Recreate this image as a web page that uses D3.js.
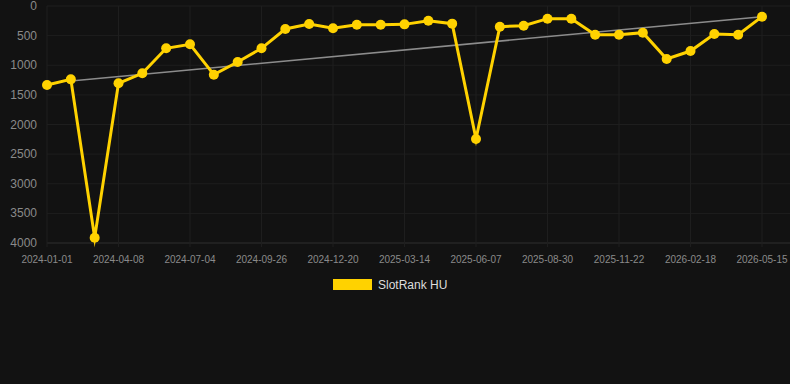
<!DOCTYPE html>
<html><head><meta charset="utf-8">
<script src="https://cdn.jsdelivr.net/npm/d3@7/dist/d3.min.js"></script>
<style>html,body{margin:0;padding:0;background:#121212;}svg{display:block;font-family:Arial,"Liberation Sans",sans-serif;}</style>
</head><body><svg id="c" width="790" height="384"></svg>
<script>
const dates = ["2024-01-01","2024-02-03","2024-03-06","2024-04-08","2024-05-07","2024-06-05","2024-07-04","2024-08-01","2024-08-29","2024-09-26","2024-10-24","2024-11-22","2024-12-20","2025-01-17","2025-02-14","2025-03-14","2025-04-11","2025-05-10","2025-06-07","2025-07-05","2025-08-02","2025-08-30","2025-09-27","2025-10-25","2025-11-22","2025-12-21","2026-01-19","2026-02-18","2026-03-18","2026-04-16","2026-05-15"];
const rank = [1333,1238,3910,1305,1136,714,647,1159,945,714,388,304,377,315,315,310,248,298,2245,349,332,214,214,484,484,450,895,760,473,484,180];
const yTicks = [0,500,1000,1500,2000,2500,3000,3500,4000];
const xTickLabels = ["2024-01-01","2024-04-08","2024-07-04","2024-09-26","2024-12-20","2025-03-14","2025-06-07","2025-08-30","2025-11-22","2026-02-18","2026-05-15"];
const trendIdx = [1,30];
const trendVals = [1266,180];
const seriesName = "SlotRank HU";

const svg = d3.select("#c");
const L=47,R=762,T=6,B=243;
const x = d3.scalePoint().domain(dates).range([L,R]);
const y = d3.scaleLinear().domain([0,4000]).range([T,B]);

const g = svg.append("g");
// horizontal grid
g.selectAll(".hg").data(yTicks).enter().append("line")
 .attr("x1",L).attr("x2",790).attr("y1",d=>y(d)).attr("y2",d=>y(d))
 .attr("stroke",d=>d===4000?"#2e2e2e":"#1e1e1e").attr("stroke-width",1);
// vertical grid
g.selectAll(".vg").data(xTickLabels).enter().append("line")
 .attr("x1",d=>x(d)).attr("x2",d=>x(d)).attr("y1",T).attr("y2",B+4)
 .attr("stroke","#1e1e1e").attr("stroke-width",1);
// y labels
g.selectAll(".yl").data(yTicks).enter().append("text")
 .attr("x",37).attr("y",d=>y(d)+4).attr("text-anchor","end")
 .attr("fill","#8a8a8a").attr("font-size","12px").text(d=>d);
// x labels
g.selectAll(".xl").data(xTickLabels).enter().append("text")
 .attr("x",d=>x(d)).attr("y",263).attr("text-anchor","middle")
 .attr("fill","#8a8a8a").attr("font-size","10px").text(d=>d);

// trend line
g.append("line")
 .attr("x1",x(dates[trendIdx[0]])).attr("y1",y(trendVals[0]))
 .attr("x2",x(dates[trendIdx[1]])).attr("y2",y(trendVals[1]))
 .attr("stroke","#8c8c8c").attr("stroke-width",1.5);

// series line
const line = d3.line().x((d,i)=>x(dates[i])).y(d=>y(d));
g.append("path").datum(rank).attr("d",line)
 .attr("fill","none").attr("stroke","#FFD200").attr("stroke-width",3)
 .attr("stroke-linejoin","miter").attr("stroke-miterlimit",10);
g.selectAll(".pt").data(rank).enter().append("circle")
 .attr("cx",(d,i)=>x(dates[i])).attr("cy",d=>y(d)).attr("r",5)
 .attr("fill","#FFD200");

// legend
svg.append("rect").attr("x",333).attr("y",279).attr("width",39).attr("height",11).attr("fill","#FFD200");
svg.append("text").attr("x",378).attr("y",289).attr("fill","#dddddd").attr("font-size","12px").text(seriesName);
</script></body></html>
